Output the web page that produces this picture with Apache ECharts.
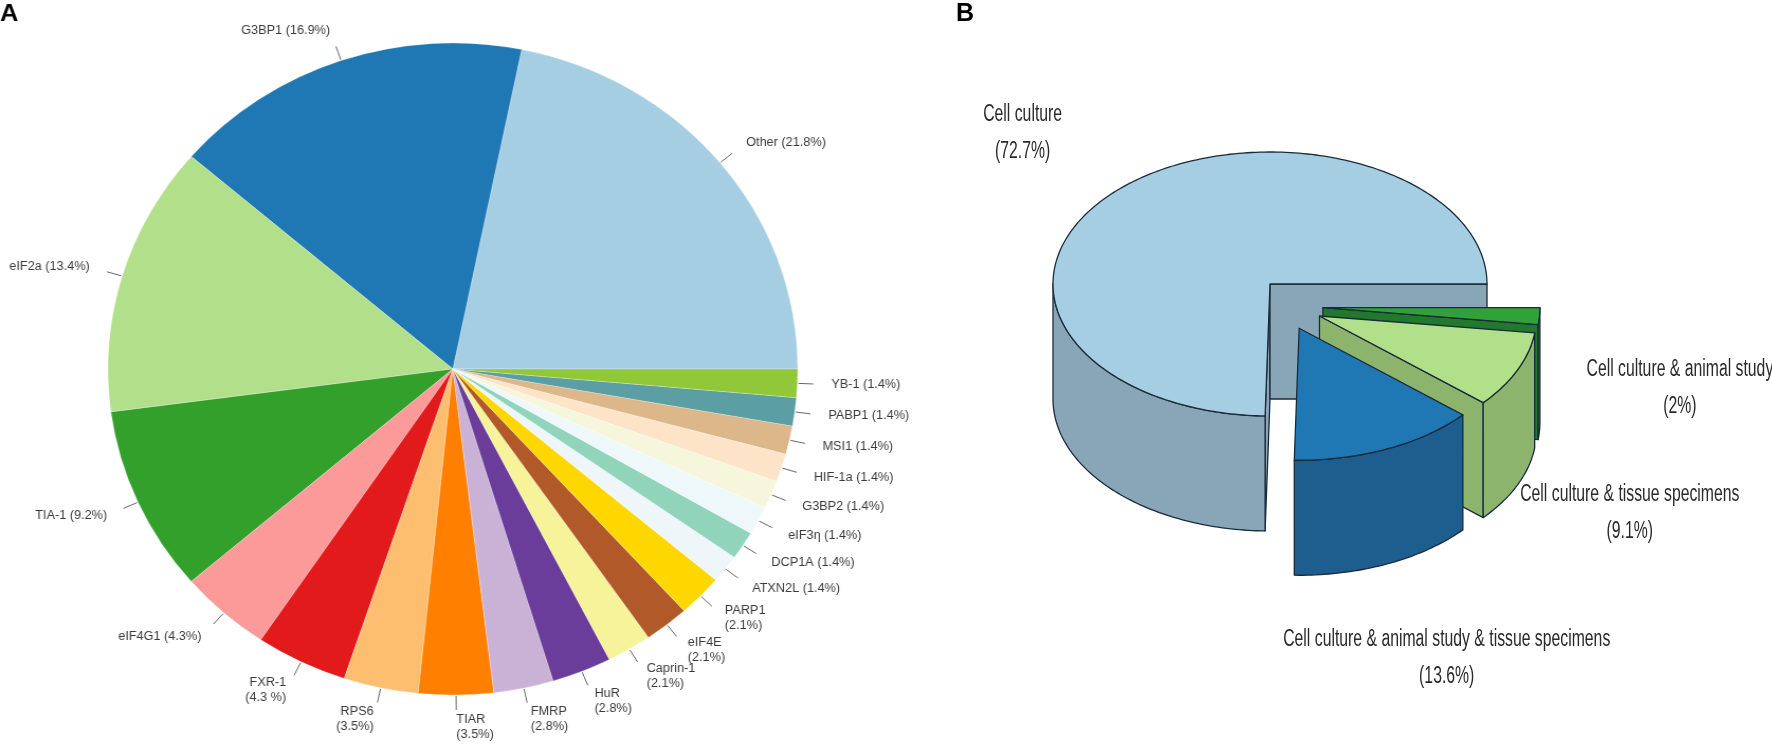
<!DOCTYPE html>
<html>
<head>
<meta charset="utf-8">
<title>Stress granule markers and study types</title>
<script src="https://cdn.jsdelivr.net/npm/echarts@6/dist/echarts.min.js"></script>
<style>
html, body { margin: 0; padding: 0; background: #fff; }
#wrap { position: relative; width: 1772px; height: 745px; overflow: hidden; }
#chartB { position: absolute; left: 0; top: 0; width: 1772px; height: 745px; }
/* the source figure of panel A is a little wider than tall */
#chartA { position: absolute; left: 0; top: 0; width: 860px; height: 745px;
	transform: scaleX(1.058); transform-origin: 0 0; }
</style>
</head>
<body>
<div id="wrap">
<div id="chartB"></div>
<div id="chartA"></div>
</div>
<script>
// panel A: markers
var markerNames = ['Other', 'G3BP1', 'eIF2a', 'TIA-1', 'eIF4G1', 'FXR-1', 'RPS6', 'TIAR', 'FMRP', 'HuR',
	'Caprin-1', 'eIF4E', 'PARP1', 'ATXN2L', 'DCP1A', 'eIF3η', 'G3BP2', 'HIF-1a', 'MSI1', 'PABP1', 'YB-1'];
var markerValues = [21.8, 16.9, 13.4, 9.2, 4.3, 4.3, 3.5, 3.5, 2.8, 2.8,
	2.1, 2.1, 2.1, 1.4, 1.4, 1.4, 1.4, 1.4, 1.4, 1.4, 1.4];
var markerLabels = ['Other (21.8%)', 'G3BP1 (16.9%)', 'eIF2a (13.4%)', 'TIA-1 (9.2%)', 'eIF4G1 (4.3%)',
	'FXR-1\n(4.3 %)', 'RPS6\n(3.5%)', 'TIAR\n(3.5%)', 'FMRP\n(2.8%)', 'HuR\n(2.8%)', 'Caprin-1\n(2.1%)',
	'eIF4E\n(2.1%)', 'PARP1\n(2.1%)', 'ATXN2L (1.4%)', 'DCP1A (1.4%)', 'eIF3η (1.4%)', 'G3BP2 (1.4%)',
	'HIF-1a (1.4%)', 'MSI1 (1.4%)', 'PABP1 (1.4%)', 'YB-1 (1.4%)'];

// panel B: study types (clockwise from 3 o'clock)
var studyNames = ['Cell culture & animal study', 'Cell culture & tissue specimens',
	'Cell culture & animal study & tissue specimens', 'Cell culture'];
var studyValues = [2, 9.1, 13.6, 72.7];
var studyLabels = ['Cell culture & animal study\n(2%)', 'Cell culture & tissue specimens\n(9.1%)',
	'Cell culture & animal study & tissue specimens\n(13.6%)', 'Cell culture\n(72.7%)'];

var markerColors = ['#a6cee3', '#1f78b4', '#b2df8a', '#33a02c', '#fb9a99', '#e31a1c', '#fdbf6f', '#ff7f00',
	'#cab2d6', '#6a3d9a', '#f7f39a', '#b15928', '#ffd700', '#eef6fa', '#8fd4bb', '#eef8fb', '#f6f6dc',
	'#fde4c8', '#dcb789', '#5b9ea4', '#90c83a'];

var pa = { cx: 428, cy: 369, r: 326, len: 15, gap: 17 };
var totalA = 0;
markerValues.forEach(function (v) { totalA += v; });
var midA = [];
var acc = 0;
for (var i = 0; i < markerValues.length; i++) {
	midA.push((acc + markerValues[i] / 2) / totalA * Math.PI * 2);
	acc += markerValues[i];
}

var pieData = [];
for (var i = 0; i < markerNames.length; i++) {
	pieData.push({
		name : markerNames[i],
		value : markerValues[i],
		itemStyle : { color : markerColors[i] }
	});
}

// 3d pie geometry for panel B
var pb = { cx: 1270, cy: 284, rx: 217, ry: 132, depth: 115 };
var topB = ['#31a23a', '#b2df8a', '#1f78b4', '#a6cee3'];
var sideB = ['#22782c', '#8db46c', '#1d5e8e', '#88a6b8'];
var explodeB = [1, 1, 1, 0];
var drawOrderB = [1, 2, 3, 0];
var labelPosB = [[1.645, 0.61], [1.43, 1.49], [0.68, 2.5], [-1.14, -1.14]];

var totalB = 0;
studyValues.forEach(function (v) { totalB += v; });
var angB = [];
acc = 0;
for (var i = 0; i < studyValues.length; i++) {
	angB.push([acc / totalB * Math.PI * 2, (acc + studyValues[i]) / totalB * Math.PI * 2]);
	acc += studyValues[i];
}

function arcPts(ox, oy, a0, a1, dy) {
	var pts = [];
	var n = Math.max(2, Math.ceil(Math.abs(a1 - a0) / 0.02));
	for (var k = 0; k <= n; k++) {
		var a = a0 + (a1 - a0) * k / n;
		pts.push([ox + pb.rx * Math.cos(a), oy + pb.ry * Math.sin(a) + dy]);
	}
	return pts;
}

var strokeB = { stroke: '#1a2b3a', lineWidth: 1.3, lineJoin: 'round' };

function renderStudy(params, api) {
	var i = params.dataIndex;
	var a0 = angB[i][0], a1 = angB[i][1];
	var m = (a0 + a1) / 2;
	var ox = pb.cx, oy = pb.cy;
	if (explodeB[i]) {
		ox += 13 + 40 * Math.cos(m);
		oy += 22 + 40 * Math.sin(m) * pb.ry / pb.rx;
	}
	var base = drawOrderB[i] * 10;
	var d = pb.depth;
	var kids = [];
	var side = echarts.util.extend({ fill: sideB[i] }, strokeB);
	// radial faces that turn towards the viewer
	[[a0, -Math.cos(a0)], [a1, Math.cos(a1)]].forEach(function (f) {
		if (f[1] > 0.001) {
			var p = [ox + pb.rx * Math.cos(f[0]), oy + pb.ry * Math.sin(f[0])];
			kids.push({ type: 'polygon', z2: base + 1,
				shape: { points: [[ox, oy], p, [p[0], p[1] + d], [ox, oy + d]] }, style: side });
		}
	});
	// outer wall, front half only
	[0, Math.PI * 2].forEach(function (k) {
		var lo = Math.max(a0, k), hi = Math.min(a1, k + Math.PI);
		if (hi > lo) {
			var pts = arcPts(ox, oy, lo, hi, 0).concat(arcPts(ox, oy, hi, lo, d));
			kids.push({ type: 'polygon', z2: base + 2, shape: { points: pts }, style: side });
		}
	});
	// top face
	var topPts = [[ox, oy]].concat(arcPts(ox, oy, a0, a1, 0));
	kids.push({ type: 'polygon', z2: base + 3, shape: { points: topPts },
		style: echarts.util.extend({ fill: topB[i] }, strokeB) });
	// label, narrow lettering
	kids.push({ type: 'text', z2: 50,
		x: ox + labelPosB[i][0] * pb.rx,
		y: oy + labelPosB[i][1] * pb.ry,
		scaleX: 0.686,
		style: {
			text: studyLabels[i], x: 0, y: 0,
			align: 'center', verticalAlign: 'middle',
			fill: '#2a2a2a', fontSize: 23, lineHeight: 37,
			fontFamily: 'Liberation Sans'
		} });
	return { type: 'group', children: kids };
}

var optionA = {
	animation : false,
	title : {
		text : 'A', left : 0, top : 2, padding : 0,
		textStyle : { fontSize : 24, fontWeight : 'bold', color : '#000', fontFamily : 'Liberation Sans' }
	},
	series : [ {
		name : 'Markers',
		type : 'pie',
		center : [ pa.cx, pa.cy ],
		radius : [ 0, pa.r ],
		startAngle : 0,
		clockwise : false,
		silent : true,
		avoidLabelOverlap : false,
		itemStyle : { borderColor : 'rgba(255,255,255,0.5)', borderWidth : 0.5 },
		label : {
			show : true,
			position : 'outside',
			color : '#3a3a3a',
			fontSize : 12,
			lineHeight : 15,
			fontFamily : 'Liberation Sans',
			formatter : function (p) { return markerLabels[p.dataIndex]; }
		},
		labelLine : {
			show : true, length : pa.len, length2 : 0, smooth : false,
			lineStyle : { color : '#666', width : 1 }
		},
		// labels sit a bit further out along the middle of each slice
		labelLayout : function (p) {
			var i = p.dataIndex;
			var c = Math.cos(midA[i]), s = Math.sin(midA[i]);
			var e = [pa.cx + (pa.r + 1) * c, pa.cy - (pa.r + 1) * s];
			var t = [pa.cx + (pa.r + pa.len) * c, pa.cy - (pa.r + pa.len) * s];
			var q = pa.r + pa.len + pa.gap;
			return { x : pa.cx + q * c, y : pa.cy - q * s, align : c >= -0.001 ? 'left' : 'right',
				verticalAlign : 'middle', labelLinePoints : [ e, t, t ] };
		},
		data : pieData
	} ]
};

var optionB = {
	animation : false,
	title : {
		text : 'B', left : 956, top : 2, padding : 0,
		textStyle : { fontSize : 25, fontWeight : 'bold', color : '#000', fontFamily : 'Liberation Sans' }
	},
	series : [ {
		name : 'Study type',
		type : 'custom',
		coordinateSystem : 'none',
		silent : true,
		renderItem : renderStudy,
		data : studyValues.map(function (v, i) { return { name : studyNames[i], value : v }; })
	} ]
};

var chartB = echarts.init(document.getElementById('chartB'));
chartB.setOption(optionB);
var chartA = echarts.init(document.getElementById('chartA'));
chartA.setOption(optionA);
</script>
</body>
</html>
